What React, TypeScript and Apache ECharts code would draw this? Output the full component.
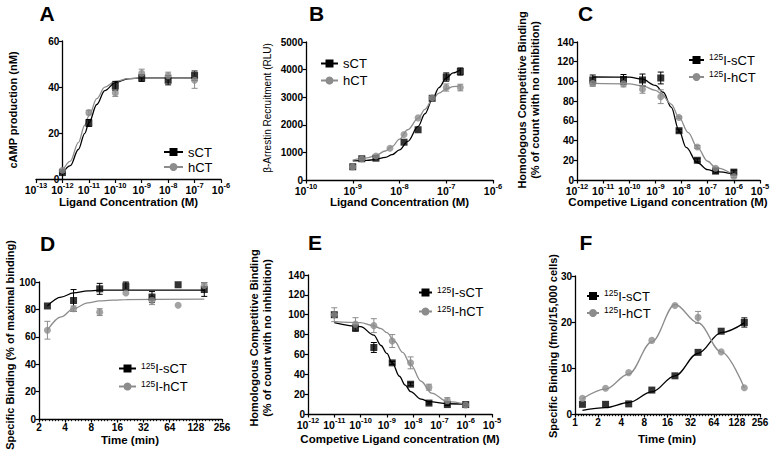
import { useEffect, useRef } from 'react';
import * as echarts from 'echarts';

const BLACK = '#000000';
const GRAY = '#8c8c8c';
const FONT = "'Liberation Sans', Arial, Helvetica, sans-serif";

// ---------- Panel A : cAMP production ----------
const aConc = [1e-12, 1e-11, 1e-10, 1e-9, 1e-8, 1e-7];
const aSCT = [3, 24.5, 40.5, 44, 43, 45];
const aSCTErr = [0.5, 1.5, 2, 1.5, 2, 2];
const aHCT = [4, 29, 37.5, 46, 45, 43];
const aHCTErr = [0.5, 1, 1.5, 1.8, 1.5, 3.5];
const aFitX = [1e-12, 2e-12, 4e-12, 7e-12, 1e-11, 2e-11, 4e-11, 1e-10, 3e-10, 1e-9, 1e-8, 1e-7];
const aFitSCT = [2.5, 6, 13, 20, 24.5, 32.5, 38.5, 42, 43.6, 44, 44, 44];
const aFitHCT = [3.5, 8, 16, 23.5, 27.5, 35, 40, 42.5, 43.7, 44, 44, 44];

// ---------- Panel B : beta-arrestin ----------
const bConcS = [1e-9, 1.56e-9, 3.13e-9, 1.25e-8, 2.5e-8, 5e-8, 1e-7, 2e-7];
const bSCT = [480, 770, 790, 1370, 1820, 2960, 3730, 3930];
const bSCTErr = [0, 0, 0, 0, 0, 0, 150, 130];
const bConcH = [1e-9, 1.56e-9, 3.13e-9, 6.25e-9, 1.25e-8, 2.5e-8, 5e-8, 1e-7, 2e-7];
const bHCT = [470, 760, 870, 1150, 1650, 2250, 2980, 3350, 3350];
const bHCTErr = [0, 0, 0, 0, 0, 0, 0, 130, 120];
const bFitX = [1e-9, 2e-9, 3e-9, 5e-9, 7e-9, 1e-8, 1.5e-8, 2.5e-8, 3.5e-8, 5e-8, 7e-8, 1e-7, 1.4e-7, 2e-7];
const bFitSCT = [690, 710, 740, 820, 920, 1090, 1400, 1940, 2400, 2900, 3350, 3690, 3880, 3990];
const bFitHCT = [720, 800, 880, 1050, 1220, 1480, 1820, 2230, 2560, 2900, 3150, 3300, 3380, 3420];

// ---------- Panel C : homologous competition (1) ----------
const cConc = [4e-12, 6e-11, 3.2e-10, 1.6e-9, 8e-9, 4e-8, 2e-7, 1e-6];
const cSCT = [101.5, 102, 101.5, 103.5, 50, 20, 9, 8];
const cSCTErr = [5, 5, 6, 6, 1.5, 1.5, 2, 2];
const cHCT = [98, 97.5, 92, 84.5, 63.5, 33.5, 12, 3.5];
const cHCTErr = [3, 3, 4, 7, 1, 1.5, 1, 1];
const cFitSX = [4e-12, 1e-10, 3e-10, 1e-9, 2e-9, 4e-9, 8e-9, 1.5e-8, 4e-8, 1e-7, 2e-7, 1e-6];
const cFitSCT = [104.5, 104.3, 102.5, 96, 89, 74, 50, 33, 17.5, 10.5, 8.5, 6];
const cFitHX = [4e-12, 1e-10, 3.2e-10, 1e-9, 1.6e-9, 4e-9, 8e-9, 1.8e-8, 4e-8, 1e-7, 2e-7, 1e-6];
const cFitHCT = [98, 97.5, 95.5, 91, 88, 77, 63.5, 48, 33, 19, 12.5, 5];

// ---------- Panel D : association (% of maximal) ----------
const dTime = [2.5, 5, 10, 20, 40, 80, 160];
const dSCT = [82.5, 86.5, 95, 97, 89, 98, 94.5];
const dSCTErr = [0, 8, 4, 3, 4, 0, 5];
const dHCT = [64.8, 80.5, 78, 92, 86.5, 83, 97.5];
const dHCTErr = [6.5, 2, 2.5, 0, 3, 0, 2];
const dFitX = [2.5, 3.6, 5, 7.3, 10, 20, 160];
const dFitSCT = [82.5, 89, 92, 93.5, 94, 94, 94];
const dFitHCT = [64.8, 74.5, 80.6, 84.7, 86.2, 87.2, 87.5];

// ---------- Panel E : homologous competition (2) ----------
const eConc = [1e-11, 6.4e-11, 3.2e-10, 1.6e-9, 8e-9, 4e-8, 2e-7, 1e-6];
const eSCT = [100, 86.5, 67, 51.5, 30, 11, 9.5, 9.5];
const eSCTErr = [2, 3, 5, 1.5, 1.5, 1, 1, 1];
const eHCT = [100, 90.5, 89, 73.5, 51.5, 27, 13.5, 9];
const eHCTErr = [7, 6.5, 7, 6.5, 6, 3, 3, 1.5];
const eFitSX = [1e-11, 1e-10, 3.2e-10, 6e-10, 1e-9, 1.6e-9, 3e-9, 5e-9, 8e-9, 2e-8, 4e-8, 2e-7, 1e-6];
const eFitSCT = [92, 88, 79.5, 69, 61, 51.5, 38, 29, 22.5, 15, 12.4, 10.3, 10];
const eFitHX = [1e-11, 1e-10, 3e-10, 6e-10, 1e-9, 2e-9, 4e-9, 8e-9, 2e-8, 5e-8, 2e-7, 1e-6];
const eFitHCT = [93, 92, 89, 86, 82, 73, 62, 50, 33, 21, 12.5, 10];

// ---------- Panel F : specific binding over time ----------
const fTime = [1.25, 2.5, 5, 10, 20, 40, 80, 160];
const fSCT = [2.1, 2.1, 2.2, 5.2, 8.3, 13.4, 18, 19.9];
const fSCTErr = [0, 0, 0, 0, 0, 0, 0, 1];
const fHCT = [3.4, 5.6, 9, 16, 23.6, 21, 13.5, 5.7];
const fHCTErr = [0, 0, 0, 0, 0, 1.3, 0, 0];
const fFitSCT = [0.8, 1.4, 2.5, 4.8, 8.3, 13.2, 17.7, 19.8];
const fFitHCT = [3.3, 5.4, 8.7, 15.7, 23.8, 19.8, 13.5, 5.7];

// ---------- helpers ----------
const pts = (xs: number[], ys: number[]) => xs.map((x, i) => [x, ys[i]]);
const errs = (xs: number[], ys: number[], es: number[]) =>
  xs.map((x, i) => [x, ys[i], ys[i] - es[i], ys[i] + es[i]]).filter((_, i) => es[i] > 0);

const axisLine = { show: true, onZero: false, lineStyle: { color: BLACK, width: 1.3 } };
const axisTick = { show: true, length: 3.5, lineStyle: { color: BLACK, width: 1.2 } };
const labelBase = { color: BLACK, fontSize: 10, fontWeight: 'bold', fontFamily: FONT, margin: 3 };

function log10Axis(gi: number, min: number, max: number) {
  return {
    type: 'log', logBase: 10, gridIndex: gi, min, max, position: 'bottom',
    axisLine, axisTick, splitLine: { show: false },
    axisLabel: {
      ...labelBase, interval: 0, margin: 2,
      formatter: (v: number) => `{b|10}{s|${Math.round(Math.log10(v))}}`,
      rich: {
        b: { fontSize: 10.5, fontWeight: 'bold', color: BLACK, fontFamily: FONT, lineHeight: 14, verticalAlign: 'bottom' },
        s: { fontSize: 7.5, fontWeight: 'bold', color: BLACK, fontFamily: FONT, lineHeight: 9, verticalAlign: 'top' },
      },
    },
  };
}
function log2Axis(gi: number, min: number, max: number) {
  return {
    type: 'log', logBase: 2, gridIndex: gi, min, max, position: 'bottom',
    axisLine, axisTick,
    splitLine: { show: false },
    axisLabel: { ...labelBase, interval: 0, formatter: (v: number) => String(Math.round(v)) },
  };
}
// purely decorative minor-tick ruler laid over a log2 axis (exponent space)
function minorRuler(gi: number, expMin: number, expMax: number) {
  return {
    type: 'value', gridIndex: gi, min: expMin, max: expMax, interval: 0.125, position: 'bottom', offset: 0,
    axisLine: { show: false },
    axisTick: { show: true, length: 2.2, lineStyle: { color: BLACK, width: 0.9 } },
    axisLabel: { show: false },
    splitLine: { show: false },
    silent: true,
  };
}
function valAxis(gi: number, max: number, interval: number, offset = 0) {
  return {
    type: 'value', gridIndex: gi, min: 0, max, interval, offset,
    axisLine, axisTick, splitLine: { show: false },
    axisLabel: { ...labelBase, margin: 3, formatter: (v: number) => String(v) },
  };
}

const errRender = (color: string) => (params: any, api: any) => {
  const x = api.value(0);
  const p1 = api.coord([x, api.value(2)]);
  const p2 = api.coord([x, api.value(3)]);
  const w = 3;
  const st = { stroke: color, lineWidth: 1 };
  return {
    type: 'group',
    children: [
      { type: 'line', shape: { x1: p1[0], y1: p1[1], x2: p2[0], y2: p2[1] }, style: st },
      { type: 'line', shape: { x1: p1[0] - w, y1: p1[1], x2: p1[0] + w, y2: p1[1] }, style: st },
      { type: 'line', shape: { x1: p2[0] - w, y1: p2[1], x2: p2[0] + w, y2: p2[1] }, style: st },
    ],
  };
};

type PanelData = {
  k: string;
  sx: number[]; sy: number[]; se: number[];
  hx: number[]; hy: number[]; he: number[];
  fsx: number[]; fsy: number[]; fhx: number[]; fhy: number[];
};

function panelSeries(i: number, p: PanelData) {
  const common = { xAxisIndex: i, yAxisIndex: i, silent: true };
  return [
    {
      ...common, type: 'line', name: `${p.k}|sCT`, data: pts(p.fsx, p.fsy), smooth: 0.35, smoothMonotone: 'x',
      symbol: 'rect', symbolSize: 7, showSymbol: false, lineStyle: { color: BLACK, width: 1.3 }, itemStyle: { color: BLACK }, z: 2,
    },
    {
      ...common, type: 'line', name: `${p.k}|hCT`, data: pts(p.fhx, p.fhy), smooth: 0.35, smoothMonotone: 'x',
      symbol: 'circle', symbolSize: 7, showSymbol: false, lineStyle: { color: GRAY, width: 1.3 }, itemStyle: { color: GRAY }, z: 2,
    },
    { ...common, type: 'custom', data: errs(p.sx, p.sy, p.se), renderItem: errRender(BLACK), encode: { x: 0, y: 1 }, clip: false, z: 3 },
    { ...common, type: 'custom', data: errs(p.hx, p.hy, p.he), renderItem: errRender(GRAY), encode: { x: 0, y: 1 }, clip: false, z: 3 },
    { ...common, type: 'scatter', data: pts(p.sx, p.sy), symbol: 'rect', symbolSize: 7, itemStyle: { color: BLACK }, z: 4 },
    { ...common, type: 'scatter', data: pts(p.hx, p.hy), symbol: 'circle', symbolSize: 7, itemStyle: { color: GRAY }, z: 5 },
  ];
}

function legend(k: string, left: number, top: number, gap: number, sup: boolean, itemWidth = 17) {
  return {
    data: [`${k}|sCT`, `${k}|hCT`],
    orient: 'vertical', left, top, itemGap: gap, itemWidth, itemHeight: 10, padding: 0,
    selectedMode: false,
    formatter: (n: string) => (sup ? `{s|125}I-${n.split('|')[1]}` : n.split('|')[1]),
    textStyle: {
      color: BLACK, fontSize: 13, fontFamily: FONT, lineHeight: 15,
      rich: { s: { fontSize: 8.5, fontFamily: FONT, color: BLACK, verticalAlign: 'top', lineHeight: 9 } },
    },
  };
}

const txt = (text: string, x: number, y: number, size: number, bold = true, rot = 0, lh?: number) => ({
  type: 'text', x, y, rotation: rot, silent: true,
  style: {
    text, fill: BLACK, font: `${bold ? 'bold ' : ''}${size}px ${FONT}`,
    textAlign: 'center', textVerticalAlign: 'middle', align: 'center', verticalAlign: 'middle',
    lineHeight: lh,
  },
});

function buildOption() {
  const grids = [
    { left: 36, top: 41, width: 185, height: 138.5 },
    { left: 306, top: 42, width: 187, height: 138 },
    { left: 577, top: 42, width: 183, height: 138 },
    { left: 39, top: 282, width: 183, height: 137 },
    { left: 308, top: 275, width: 184, height: 139 },
    { left: 575, top: 276, width: 185, height: 138 },
  ];
  const xAxis = [
    log10Axis(0, 1e-13, 1e-6),
    log10Axis(1, 1e-10, 1e-6),
    log10Axis(2, 1e-12, 1e-5),
    log2Axis(3, 2, 256),
    log10Axis(4, 1e-12, 1e-5),
    log2Axis(5, 1, 256),
    minorRuler(3, 1, 8),
    minorRuler(5, 0, 8),
  ];
  const yAxis = [
    valAxis(0, 60, 20, -185 / 7),
    valAxis(1, 5000, 1000),
    valAxis(2, 140, 20),
    valAxis(3, 100, 20),
    valAxis(4, 140, 20),
    valAxis(5, 30, 10),
  ];
  const panels: PanelData[] = [
    { k: 'A', sx: aConc, sy: aSCT, se: aSCTErr, hx: aConc, hy: aHCT, he: aHCTErr, fsx: aFitX, fsy: aFitSCT, fhx: aFitX, fhy: aFitHCT },
    { k: 'B', sx: bConcS, sy: bSCT, se: bSCTErr, hx: bConcH, hy: bHCT, he: bHCTErr, fsx: bFitX, fsy: bFitSCT, fhx: bFitX, fhy: bFitHCT },
    { k: 'C', sx: cConc, sy: cSCT, se: cSCTErr, hx: cConc, hy: cHCT, he: cHCTErr, fsx: cFitSX, fsy: cFitSCT, fhx: cFitHX, fhy: cFitHCT },
    { k: 'D', sx: dTime, sy: dSCT, se: dSCTErr, hx: dTime, hy: dHCT, he: dHCTErr, fsx: dFitX, fsy: dFitSCT, fhx: dFitX, fhy: dFitHCT },
    { k: 'E', sx: eConc, sy: eSCT, se: eSCTErr, hx: eConc, hy: eHCT, he: eHCTErr, fsx: eFitSX, fsy: eFitSCT, fhx: eFitHX, fhy: eFitHCT },
    { k: 'F', sx: fTime, sy: fSCT, se: fSCTErr, hx: fTime, hy: fHCT, he: fHCTErr, fsx: fTime, fsy: fFitSCT, fhx: fTime, fhy: fFitHCT },
  ];
  const series = panels.flatMap((p, i) => panelSeries(i, p));
  const R = Math.PI / 2;
  const graphic = [
    txt('A', 47, 13, 21), txt('B', 316.5, 13, 21), txt('C', 585.5, 13, 21),
    txt('D', 47.5, 243, 21), txt('E', 315, 242, 21), txt('F', 586, 242, 21),
    txt('Ligand Concentration (M)', 128.5, 202, 11.5),
    txt('cAMP production (nM)', 13, 110, 11, true, R),
    txt('Ligand Concentration (M)', 399.5, 202, 11.5),
    txt('\u03b2-Arrestin Recruitment (RLU)', 267, 108, 10, false, R),
    txt('Competive Ligand concentration (M)', 668, 202, 11.5),
    txt('Homologous Competitive Binding\n(% of count with no inhibition)', 528.5, 100, 11, true, R, 13),
    txt('Time (min)', 130, 440, 11.5),
    txt('Specific Binding (% of maximal binding)', 10, 345, 11, true, R),
    txt('Competive Ligand concentration (M)', 400, 439, 11.5),
    txt('Homologous Competitive Binding\n(% of count with no inhibition)', 260, 338, 11, true, R, 13),
    txt('Time (min)', 667, 439, 11.5),
    txt('Specific Binding (fmol/15,000 cells)', 553, 346, 11, true, R),
  ];
  return {
    animation: false,
    backgroundColor: '#ffffff',
    textStyle: { fontFamily: FONT },
    grid: grids,
    xAxis,
    yAxis,
    legend: [
      legend('A', 163, 144.5, 0, false, 19),
      legend('B', 320, 56, 2, false),
      legend('C', 688, 52.5, 2, true, 15),
      legend('D', 118, 361, 3, true),
      legend('E', 418, 285, 4, true, 13),
      legend('F', 586, 288.5, 2, true, 12),
    ],
    series,
    graphic,
  };
}

export default function App() {
  const ref = useRef<HTMLDivElement>(null);
  useEffect(() => {
    const chart = echarts.init(ref.current!, undefined, { renderer: 'svg', width: 773, height: 460 });
    chart.setOption(buildOption() as any);
    return () => chart.dispose();
  }, []);
  return (
    <div
      ref={ref}
      style={{ position: 'fixed', left: 0, top: 0, width: 773, height: 460, background: '#fff' }}
    />
  );
}
